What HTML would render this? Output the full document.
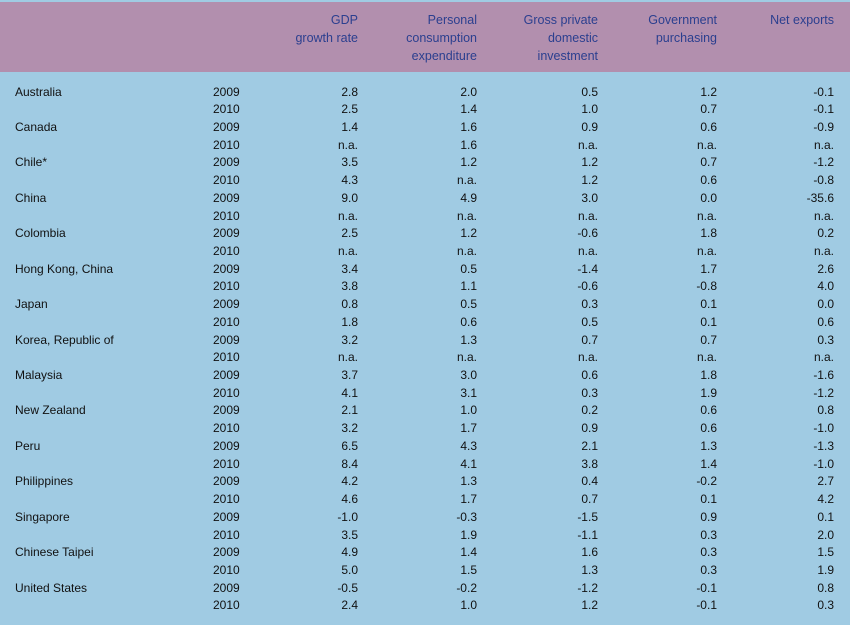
<!DOCTYPE html>
<html><head><meta charset="utf-8"><style>
body{margin:0;width:850px;height:625px;overflow:hidden;background:#fff;font-family:"Liberation Sans",sans-serif;}
#wrap{position:absolute;left:0;top:0;width:850px;height:625px;background:#a0cbe3;}
#head{position:absolute;left:0;top:2px;width:850px;height:70px;background:#b28fae;}
.h{position:absolute;color:#2b3f8f;font-size:12.5px;line-height:18px;text-align:right;}
.c{position:absolute;font-size:12px;color:#111;line-height:16px;white-space:nowrap;}
.r{text-align:right;}
</style></head><body>
<div id="wrap">
<div id="head">
<div class="h" style="right:492px;top:9px;">GDP<br>growth rate</div>
<div class="h" style="right:373px;top:9px;">Personal<br>consumption<br>expenditure</div>
<div class="h" style="right:252px;top:9px;">Gross private<br>domestic<br>investment</div>
<div class="h" style="right:133px;top:9px;">Government<br>purchasing</div>
<div class="h" style="right:16px;top:9px;">Net exports</div>
</div>
</div>
<script>
const countries=["Australia","Canada","Chile*","China","Colombia","Hong Kong, China","Japan","Korea, Republic of","Malaysia","New Zealand","Peru","Philippines","Singapore","Chinese Taipei","United States"];
const years=["2009","2010"];
const gdp=["2.8","2.5","1.4","n.a.","3.5","4.3","9.0","n.a.","2.5","n.a.","3.4","3.8","0.8","1.8","3.2","n.a.","3.7","4.1","2.1","3.2","6.5","8.4","4.2","4.6","-1.0","3.5","4.9","5.0","-0.5","2.4"];
const pce=["2.0","1.4","1.6","1.6","1.2","n.a.","4.9","n.a.","1.2","n.a.","0.5","1.1","0.5","0.6","1.3","n.a.","3.0","3.1","1.0","1.7","4.3","4.1","1.3","1.7","-0.3","1.9","1.4","1.5","-0.2","1.0"];
const inv=["0.5","1.0","0.9","n.a.","1.2","1.2","3.0","n.a.","-0.6","n.a.","-1.4","-0.6","0.3","0.5","0.7","n.a.","0.6","0.3","0.2","0.9","2.1","3.8","0.4","0.7","-1.5","-1.1","1.6","1.3","-1.2","1.2"];
const gov=["1.2","0.7","0.6","n.a.","0.7","0.6","0.0","n.a.","1.8","n.a.","1.7","-0.8","0.1","0.1","0.7","n.a.","1.8","1.9","0.6","0.6","1.3","1.4","-0.2","0.1","0.9","0.3","0.3","0.3","-0.1","-0.1"];
const nex=["-0.1","-0.1","-0.9","n.a.","-1.2","-0.8","-35.6","n.a.","0.2","n.a.","2.6","4.0","0.0","0.6","0.3","n.a.","-1.6","-1.2","0.8","-1.0","-1.3","-1.0","2.7","4.2","0.1","2.0","1.5","1.9","0.8","0.3"];
const cols=[[gdp,492,"gdp"],[pce,373,"consumption"],[inv,252,"investment"],[gov,133,"government"],[nex,16,"net-exports"]];
const wrap=document.getElementById('wrap');
const rowY=i=>83.5+i*17.72;
function cell(txt,style,name,right){const d=document.createElement('div');d.className='c'+(right?' r':'');d.textContent=txt;d.style.cssText=style;


wrap.appendChild(d);}
for(let i=0;i<countries.length*2;i++){
  const y=rowY(i);
  if(i%2===0) cell(countries[i/2],`left:15px;top:${y}px;`,'country-label',false);
  cell(years[i%2],`left:213px;top:${y}px;`,'year-label',false);
  cols.forEach(([arr,r,n])=>cell(arr[i],`right:${r}px;top:${y}px;`,'cell-'+n,true));
}
</script>
</body></html>
